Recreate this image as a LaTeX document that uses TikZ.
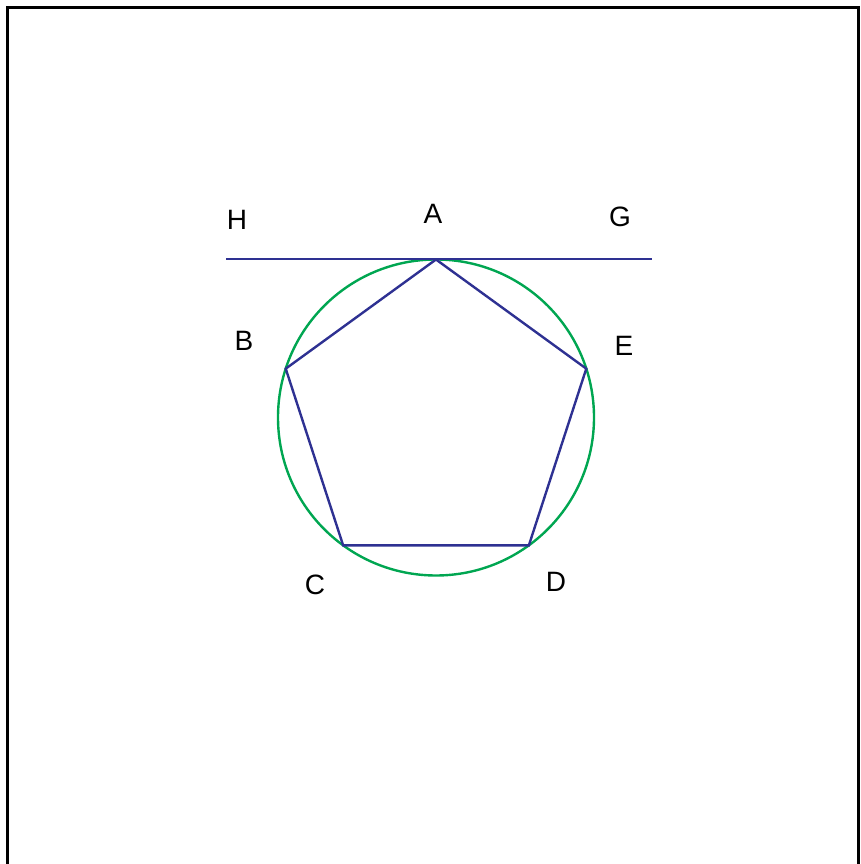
\documentclass[tikz,border=0pt]{standalone}
\usepackage{fontspec}
\setmainfont{Liberation Sans}
\usepackage{xcolor}
\usetikzlibrary{calc}
\definecolor{pgblue}{HTML}{2E3192}
\definecolor{pggreen}{HTML}{00A651}

\begin{document}
\begin{tikzpicture}[x=1pt, y=1pt,
  vlabel/.style={inner sep=0pt, font=\fontsize{28}{30}\selectfont},
  edge/.style={draw=pgblue, line width=2.4pt, line join=miter}]
  \useasboundingbox (0,0) rectangle (861,864);
  \draw[line width=3pt] (7.5,0) -- (7.5,856.5) -- (858,856.5) -- (858,0);
  \coordinate (O) at (436,446.5);
  \draw[pggreen, line width=2.4pt] (O) circle (158);
  \coordinate (A) at ($(O)+(90:158)$);
  \coordinate (B) at ($(O)+(162:158)$);
  \coordinate (C) at ($(O)+(234:158)$);
  \coordinate (D) at ($(O)+(306:158)$);
  \coordinate (E) at ($(O)+(18:158)$);
  \coordinate (Hend) at (226,605);
  \coordinate (Gend) at (652,605);
  \draw[edge] (Hend) -- (Gend);
  \draw[edge] (A) -- (B) -- (C) -- (D) -- (E) -- cycle;
  \node[vlabel] (labH) at (237,644) {H};
  \node[vlabel] (labA) at (433,650) {A};
  \node[vlabel] (labG) at (620,647) {G};
  \node[vlabel] (labB) at (244,523) {B};
  \node[vlabel] (labE) at (624,518) {E};
  \node[vlabel] (labC) at (315,279) {C};
  \node[vlabel] (labD) at (556,282) {D};
\end{tikzpicture}
\end{document}
